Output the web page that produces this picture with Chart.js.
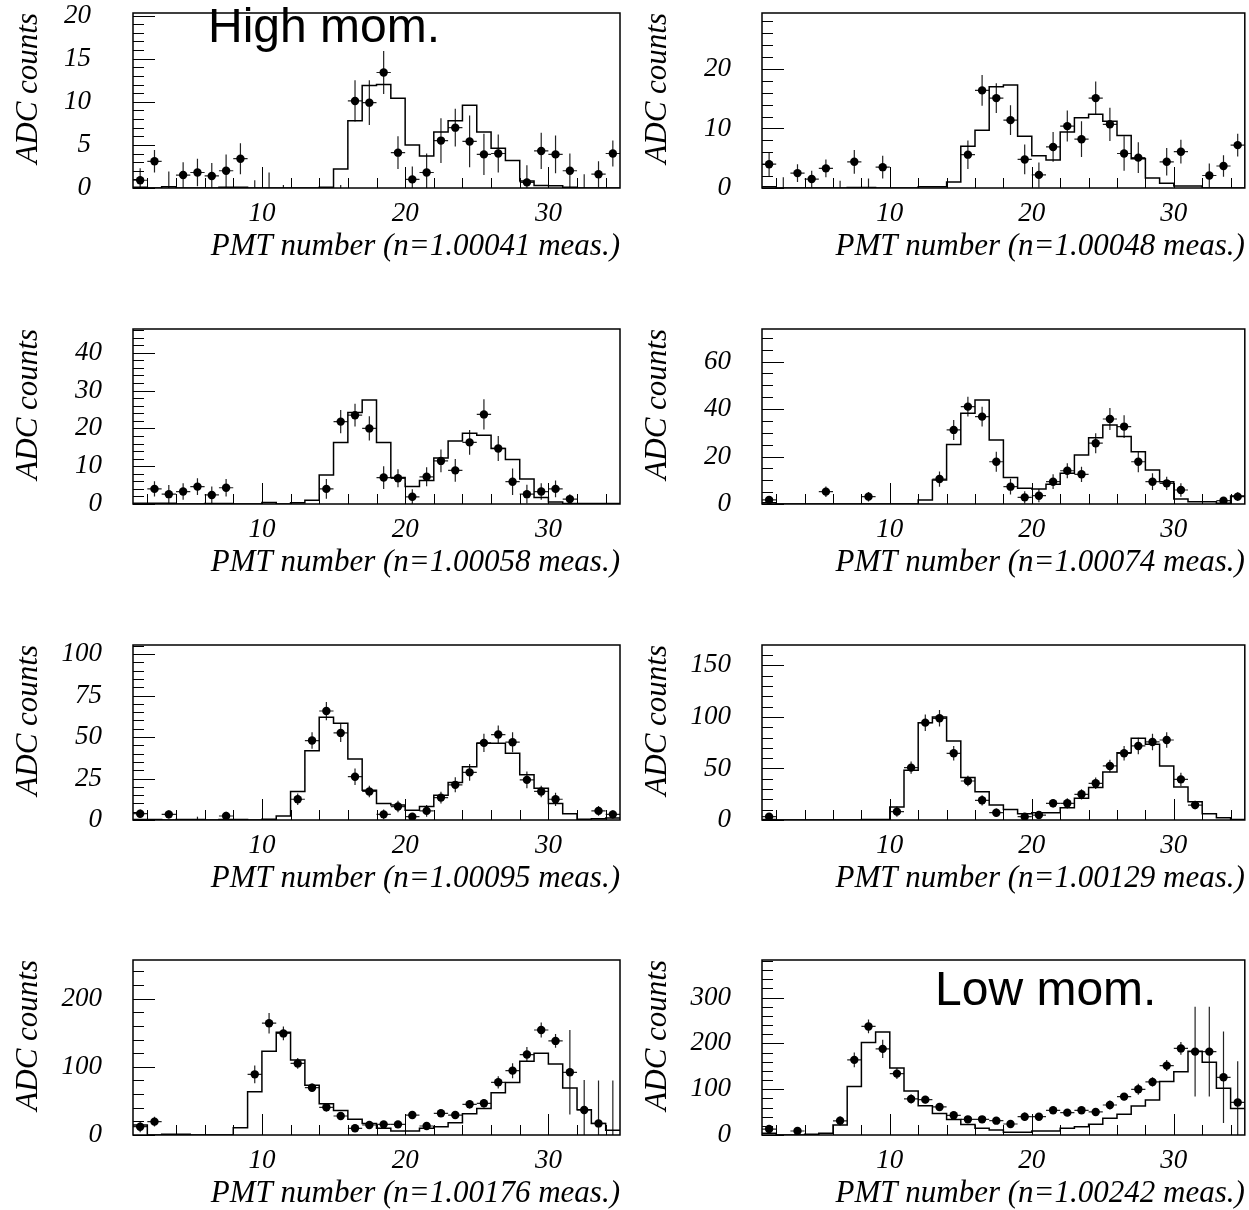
<!DOCTYPE html>
<html>
<head>
<meta charset="utf-8">
<script src="https://cdn.jsdelivr.net/npm/chart.js@4.4.0/dist/chart.umd.min.js"></script>
<style>
  html, body { margin: 0; padding: 0; background: #fff; overflow: hidden; }
  body { width: 1249px; height: 1210px; position: relative; }
  canvas { position: absolute; }
</style>
</head>
<body>
<script>
// PMT bin centres (bins are one PMT wide, edges on integers)
const pmtBins = [1.5, 2.5, 3.5, 4.5, 5.5, 6.5, 7.5, 8.5, 9.5, 10.5, 11.5, 12.5, 13.5, 14.5, 15.5, 16.5, 17.5,
                 18.5, 19.5, 20.5, 21.5, 22.5, 23.5, 24.5, 25.5, 26.5, 27.5, 28.5, 29.5, 30.5, 31.5, 32.5, 33.5, 34.5];
const xMajor = [10, 20, 30];
const xMinor = [2, 4, 6, 8, 12, 14, 16, 18, 22, 24, 26, 28, 32, 34];
const refIndex = ['1.00041', '1.00048', '1.00058', '1.00074', '1.00095', '1.00129', '1.00176', '1.00242'];

// y axes
const yTop = [20.3, 29.4, 46.3, 73.7, 105.5, 169.7, 256.7, 382];
const yMinorStep = [1, 2, 2, 5, 5, 10, 20, 20];
const yLabelPad = [42, 31, 31, 31, 31, 31, 31, 31];
const yMajor1 = [0, 5, 10, 15, 20];
const yMajor2 = [0, 10, 20];
const yMajor3 = [0, 10, 20, 30, 40];
const yMajor4 = [0, 20, 40, 60];
const yMajor5 = [0, 25, 50, 75, 100];
const yMajor6 = [0, 50, 100, 150];
const yMajor7 = [0, 100, 200];
const yMajor8 = [0, 100, 200, 300];

// simulated histograms (one value per bin)
const hist1 = [0.1, 0, 0.15, 0, 0, 0, 0.1, 0.1, 0, 0, 0, 0, 0, 0.08, 2.2, 7.8, 11.9, 12.0, 10.4, 5.0, 3.7, 6.5, 7.8, 9.6, 6.5, 4.6, 3.2, 0.8, 0.3, 0.25, 0.1, 0, 0, 0];
const hist2 = [0.2, 0, 0, 0, 0, 0, 0.1, 0.1, 0, 0, 0, 0.2, 0.2, 1.0, 7.0, 9.7, 17.0, 17.3, 8.7, 5.4, 4.7, 9.4, 11.8, 12.4, 11.2, 8.8, 4.9, 1.7, 0.8, 0.35, 0.35, 0, 0, 0];
const hist3 = [0.2, 0.2, 0.2, 0, 0, 0.1, 0.1, 0, 0, 0.4, 0, 0.35, 1.0, 7.7, 16.3, 24.2, 27.5, 16.3, 7.0, 4.6, 6.2, 12.2, 16.7, 18.7, 18.2, 14.7, 11.8, 6.6, 1.7, 0.5, 0.15, 0.1, 0.1, 0.1];
const hist4 = [0.5, 0, 0, 0, 0, 0, 0, 0, 0, 0, 0, 1.7, 10.1, 25.1, 38.2, 43.8, 27.0, 11.2, 6.6, 6.3, 8.3, 12.9, 20.6, 27.9, 33.3, 28.4, 22.0, 14.3, 9.4, 2.1, 1.0, 1.0, 0.3, 3.4];
const hist5 = [0.3, 0.3, 0, 0.3, 0.3, 0, 0.3, 0.3, 0, 0.5, 2.4, 17.2, 41.8, 62.0, 58.4, 36.8, 18.0, 9.9, 9.1, 5.9, 8.1, 14.9, 22.6, 32.1, 46.3, 46.3, 40.2, 27.3, 19.2, 9.9, 3.8, 0.4, 0.8, 1.2];
const hist6 = [0.5, 0, 0, 0, 0, 0, 0, 0.5, 0.5, 12.6, 48.2, 94.4, 99.9, 76.6, 41.1, 27.5, 14.5, 10.3, 6.1, 7.1, 7.1, 12.0, 21.0, 31.4, 46.6, 65.3, 79.2, 73.4, 52.4, 32.0, 17.8, 6.1, 2.3, 0.6];
const hist7 = [14.7, 0, 1, 1, 0, 0, 0, 10.8, 63.6, 123, 150.6, 110, 73, 46, 36, 23, 17, 10, 6, 6, 10, 12, 18, 31, 39, 62, 77, 108, 120, 104, 69, 37, 17, 7];
const hist8 = [3.6, 0, 0, 1.5, 3.6, 21.8, 105.6, 202, 225, 146, 96, 64, 47, 34, 23, 14.6, 10.9, 5.8, 5.8, 8.7, 8.7, 14.6, 18.2, 23.3, 36.4, 45.2, 63.4, 76.5, 117, 138, 183, 159, 102, 58];

// measured points (null = no marker drawn) and their errors
const pts1 = [0.9, 3.1, null, 1.5, 1.8, 1.4, 2.0, 3.4, null, null, null, null, null, null, null, 10.1, 9.9, 13.4, 4.1, 1.0, 1.8, 5.5, 7.0, 5.4, 3.9, 4.0, null, 0.65, 4.3, 3.9, 2.0, null, 1.6, 4.0];
const err1 = [1.4, 1.3, 1.9, 1.5, 1.6, 1.5, 1.9, 1.8, 0.9, 1.8, 0.35, 0, 0, 0, 0.35, 2.4, 2.6, 2.5, 1.9, 1.5, 2.2, 2.6, 2.2, 3.0, 2.4, 2.2, 0, 2.0, 2.1, 2.2, 2.0, 1.6, 1.5, 1.5];
const pts2 = [4.0, null, 2.5, 1.5, 3.3, null, 4.4, null, 3.5, null, null, null, null, null, 5.6, 16.4, 15.1, 11.4, 4.8, 2.2, 6.9, 10.4, 8.2, 15.1, 10.7, 5.8, 5.1, null, 4.4, 6.1, null, 2.1, 3.7, 7.2];
const err2 = [2.0, 1.8, 1.5, 1.4, 1.5, 1.2, 2.0, 1.6, 1.9, 0, 0, 0, 0, 0, 2.4, 2.6, 2.5, 2.5, 2.5, 2.1, 2.5, 2.6, 3.0, 2.8, 2.8, 2.9, 2.6, 0, 2.3, 2.0, 0, 2.0, 1.8, 1.9];
const pts3 = [null, 4.0, 2.6, 3.3, 4.6, 2.4, 4.3, null, null, null, null, null, null, 4.0, 21.8, 23.5, 20.0, 7.0, 6.8, 1.9, 7.2, 11.4, 8.9, 16.3, 23.7, 14.7, 5.9, 2.6, 3.3, 4.0, 1.3, null, null, null];
const err3 = [0, 2.0, 2.4, 2.2, 2.2, 2.2, 2.3, 0, 0, 0, 0, 0, 0, 2.6, 3.1, 3.0, 3.2, 3.0, 2.4, 2.0, 2.5, 3.0, 3.0, 3.3, 4.0, 3.3, 3.5, 2.5, 2.2, 2.2, 1.3, 0, 0, 0];
const pts4 = [1.7, null, null, null, 5.2, null, null, 3.1, null, null, null, null, 10.5, 31.2, 41.0, 36.8, 17.8, 7.3, 2.8, 3.5, 9.4, 14.0, 12.5, 25.6, 35.8, 32.6, 17.8, 9.4, 8.7, 5.9, null, null, 1.4, 3.1];
const err4 = [1.5, 0, 0, 0, 2.2, 0, 0, 2.0, 0, 0, 0, 0, 3.2, 4.2, 4.2, 4.2, 4.2, 3.3, 2.6, 2.8, 3.1, 3.2, 3.2, 4.2, 4.6, 4.8, 4.4, 3.5, 2.8, 2.8, 0, 0, 1.3, 1.8];
const pts5 = [3.8, null, 3.4, null, null, null, 2.4, null, null, null, null, 12.5, 47.9, 65.7, 52.5, 26.1, 17.2, 3.4, 8.1, 2.0, 5.5, 13.5, 21.2, 28.7, 46.5, 51.5, 46.9, 24.2, 17.2, 12.5, null, null, 5.5, 3.4];
const err5 = [2.5, 0, 2.5, 0, 2.0, 0, 2.5, 0, 0, 0, 0, 3.5, 5.0, 5.5, 5.5, 5.0, 3.5, 3.0, 3.5, 2.0, 3.5, 3.5, 4.5, 5.0, 5.5, 5.5, 6.0, 5.0, 3.5, 4.0, 0, 0, 3.0, 2.5];
const pts6 = [3.2, null, null, null, null, null, null, null, null, 8.1, 50.8, 94.4, 98.6, 64.7, 37.8, 19.1, 7.1, null, 3.2, 4.8, 16.2, 16.2, 24.9, 35.6, 52.4, 64.7, 71.8, 75.7, 77.6, 39.4, 14.5, null, null, null];
const err6 = [3, 0, 0, 0, 0, 0, 0, 0, 0, 5, 6, 8, 8, 7, 5, 5, 4, 0, 3, 3, 4, 5, 5, 5.5, 6, 7, 8, 8, 7.5, 6.5, 4, 0, 0, 0];
const pts7 = [12.2, 19.6, null, null, null, null, null, null, 89, 164, 149, 105, 69.4, 40.6, 27.9, 9.8, 14.7, 15.6, 15.6, 29.3, 13.2, 31.8, 29.3, 45, 46.5, 77.3, 94.4, 118, 154, 138, 92, 36.7, 17, null];
const err7 = [8, 7, 0, 0, 0, 0, 0, 0, 13, 15, 10, 8, 6, 6, 5, 5, 4, 4, 5, 6, 4, 5, 5, 6, 6, 9, 11, 11, 11, 10, 62, 44, 63, 80];
const pts8 = [13, null, 8.7, null, null, 31, 164, 237, 188, 134, 78.7, 77.2, 61.2, 43, 34.2, 34.2, 31.3, 24, 40, 40, 53.9, 48.8, 53.9, 50.3, 65.5, 83.8, 99.8, 115.8, 151.5, 189, 182, 182, 126, 71];
const err8 = [8, 0, 6, 0, 0, 10, 16, 15, 20, 12, 10, 8, 8, 7, 6, 6, 6, 6, 9, 7, 6, 6, 6, 6, 10, 8, 12, 10, 12, 14, 98, 98, 100, 90];

const SERIF = 'Liberation Serif';
const PLOT_TOPS = [13, 329, 645, 960];

// histogram as a step outline: both edges of every bin
function histPoints(values) {
    const out = [];
    values.forEach((v, i) => {
        out.push({ x: pmtBins[i] - 0.5, y: v });
        out.push({ x: pmtBins[i] + 0.5, y: v });
    });
    return out;
}

const errorBarPlugin = {
    id: 'errorBars',
    beforeDatasetsDraw(chart) {
        const ds = chart.data.datasets.find(d => d.errors);
        if (!ds) return;
        const { ctx, chartArea: a, scales: { x, y } } = chart;
        ctx.save();
        ctx.beginPath();
        ctx.rect(a.left, a.top, a.width, a.height);
        ctx.clip();
        ctx.strokeStyle = '#222';
        ctx.lineWidth = 1.2;
        ds.data.forEach((p, i) => {
            const e = ds.errors[i];
            if (p.y === null && !e) return;
            const px = x.getPixelForValue(p.x);
            const lo = p.y === null ? 0 : p.y - e;
            const hi = p.y === null ? e : p.y + e;
            ctx.beginPath();
            ctx.moveTo(px, y.getPixelForValue(lo));
            ctx.lineTo(px, y.getPixelForValue(hi));
            if (p.y !== null) {
                const py = y.getPixelForValue(p.y);
                ctx.moveTo(x.getPixelForValue(p.x - 0.5), py);
                ctx.lineTo(x.getPixelForValue(p.x + 0.5), py);
            }
            ctx.stroke();
        });
        ctx.restore();
    }
};

// ROOT-like frame with inward tick marks
const framePlugin = {
    id: 'rootFrame',
    afterDraw(chart, args, opts) {
        const { ctx, chartArea: a, scales: { x, y } } = chart;
        ctx.save();
        ctx.strokeStyle = '#000';
        ctx.lineWidth = 1;
        ctx.beginPath();
        const n = Math.floor(opts.yMax / opts.minor + 1e-6);
        for (let k = 0; k <= n; k++) {
            const v = k * opts.minor;
            const py = Math.round(y.getPixelForValue(v)) + 0.5;
            const len = opts.major.includes(v) ? 22 : 11;
            ctx.moveTo(a.left, py);
            ctx.lineTo(a.left + len, py);
        }
        xMajor.concat(xMinor).forEach(v => {
            const px = Math.round(x.getPixelForValue(v)) + 0.5;
            const len = xMajor.includes(v) ? 21 : 10;
            ctx.moveTo(px, a.bottom);
            ctx.lineTo(px, a.bottom - len);
        });
        ctx.stroke();
        ctx.lineWidth = 1.5;
        ctx.strokeRect(a.left, a.top, a.width, a.height);
        if (opts.note) {
            ctx.fillStyle = '#000';
            ctx.font = '48px "Liberation Sans"';
            ctx.textBaseline = 'alphabetic';
            ctx.fillText(opts.note, a.left + opts.noteDx, a.top + opts.noteDy);
        }
        ctx.restore();
    }
};

function makePanel(idx, hist, pts, errs, yMajor, note) {
    const col = idx % 2;
    const row = Math.floor(idx / 2);
    const width = col === 0 ? 625 : 620;
    const canvas = document.createElement('canvas');
    canvas.width = width;
    canvas.height = 265;
    canvas.style.left = (col === 0 ? 0 : 629) + 'px';
    canvas.style.top = (PLOT_TOPS[row] - 13) + 'px';
    document.body.appendChild(canvas);

    const tickFont = { family: SERIF, size: 27, style: 'italic' };
    const titleFont = { family: SERIF, size: 31, style: 'italic' };

    new Chart(canvas, {
        type: 'scatter',
        data: {
            datasets: [
                {
                    type: 'line',
                    data: histPoints(hist),
                    borderColor: '#000',
                    borderWidth: 1.5,
                    pointRadius: 0,
                    fill: false,
                    tension: 0,
                    order: 2
                },
                {
                    type: 'scatter',
                    data: pts.map((v, i) => ({ x: pmtBins[i], y: v })),
                    errors: errs,
                    pointRadius: 4.2,
                    backgroundColor: '#000',
                    borderColor: '#000',
                    borderWidth: 0,
                    order: 1
                }
            ]
        },
        options: {
            responsive: false,
            animation: false,
            devicePixelRatio: 1,
            layout: { padding: { top: 13, left: 0, right: col === 0 ? 5 : 0, bottom: 0 } },
            plugins: {
                legend: { display: false },
                tooltip: { enabled: false },
                rootFrame: {
                    yMax: yTop[idx],
                    minor: yMinorStep[idx],
                    major: yMajor,
                    note: note ? note.text : null,
                    noteDx: note ? note.dx : 0,
                    noteDy: note ? note.dy : 0
                }
            },
            scales: {
                x: {
                    type: 'linear',
                    min: 1,
                    max: 35,
                    grid: { display: false, drawTicks: false },
                    border: { display: false },
                    afterBuildTicks: s => { s.ticks = xMajor.map(v => ({ value: v })); },
                    afterFit: s => { s.height = 77; s.paddingLeft = 0; s.paddingRight = 0; },
                    ticks: { autoSkip: false, maxRotation: 0, padding: 10, color: '#000', font: tickFont },
                    title: {
                        display: true,
                        text: `PMT number (n=${refIndex[idx]} meas.)`,
                        align: 'end',
                        color: '#000',
                        font: titleFont,
                        padding: { top: 0, bottom: 0 }
                    }
                },
                y: {
                    type: 'linear',
                    min: 0,
                    max: yTop[idx],
                    grid: { display: false, drawTicks: false },
                    border: { display: false },
                    afterBuildTicks: s => { s.ticks = yMajor.map(v => ({ value: v })); },
                    afterFit: s => { s.width = 133; s.paddingTop = 0; s.paddingBottom = 0; },
                    ticks: { autoSkip: false, padding: yLabelPad[idx], color: '#000', font: tickFont },
                    title: {
                        display: true,
                        text: 'ADC counts',
                        align: 'end',
                        color: '#000',
                        font: titleFont,
                        padding: { top: 10, bottom: 0 }
                    }
                }
            }
        },
        plugins: [errorBarPlugin, framePlugin]
    });
}

makePanel(0, hist1, pts1, err1, yMajor1, { text: 'High mom.', dx: 75, dy: 29 });
makePanel(1, hist2, pts2, err2, yMajor2);
makePanel(2, hist3, pts3, err3, yMajor3);
makePanel(3, hist4, pts4, err4, yMajor4);
makePanel(4, hist5, pts5, err5, yMajor5);
makePanel(5, hist6, pts6, err6, yMajor6);
makePanel(6, hist7, pts7, err7, yMajor7);
makePanel(7, hist8, pts8, err8, yMajor8, { text: 'Low mom.', dx: 173, dy: 45 });
</script>
</body>
</html>
